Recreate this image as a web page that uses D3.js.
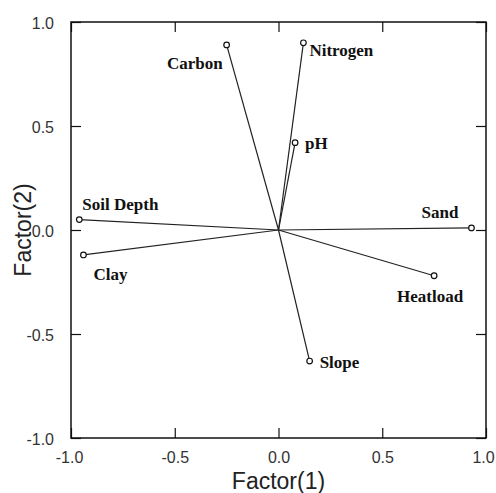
<!DOCTYPE html>
<html>
<head>
<meta charset="utf-8">
<script src="https://cdn.jsdelivr.net/npm/d3@7"></script>
<style>
  html, body { margin: 0; padding: 0; background: #fff; }
  svg { display: block; }
</style>
</head>
<body>
<svg id="chart" width="496" height="493"></svg>
<script>
// Factor loadings of each soil/site variable
const variables = ["Carbon", "Nitrogen", "pH", "Sand", "Soil Depth", "Clay", "Heatload", "Slope"];
const factor1   = [-0.25, 0.12, 0.08, 0.93, -0.96, -0.94, 0.75, 0.15];
const factor2   = [ 0.89, 0.90, 0.42, 0.01,  0.05, -0.12, -0.22, -0.63];

// Axis ticks
const tickValues = [-1.0, -0.5, 0.0, 0.5, 1.0];
const tickLabels = ["-1.0", "-0.5", "0.0", "0.5", "1.0"];

// Label placement relative to each arrow tip: [dx, dy, anchor]
const labelPlacement = [
  [-4, 24, "end"],
  [6, 13, "start"],
  [10, 6, "start"],
  [-13, -10, "end"],
  [3, -10, "start"],
  [10, 25, "start"],
  [-4, 26, "middle"],
  [10, 7, "start"]
];

const svg = d3.select("#chart");
const margin = { top: 22, right: 10, bottom: 55, left: 71 };
const W = 496, H = 493;
const x = d3.scaleLinear().domain([-1, 1]).range([margin.left, W - margin.right]);
const y = d3.scaleLinear().domain([-1, 1]).range([H - margin.bottom, margin.top]);

const tickFmt = v => tickLabels[tickValues.indexOf(v)];
const TL = 10;

// Inner ticks on all four sides
const axisBottom = d3.axisBottom(x).tickValues(tickValues).tickFormat(tickFmt).tickSizeInner(-TL).tickSizeOuter(0).tickPadding(14);
const axisTop    = d3.axisTop(x).tickValues(tickValues).tickFormat("").tickSizeInner(-TL).tickSizeOuter(0);
const axisLeft   = d3.axisLeft(y).tickValues(tickValues).tickFormat(tickFmt).tickSizeInner(-TL).tickSizeOuter(0).tickPadding(17);
const axisRight  = d3.axisRight(y).tickValues(tickValues).tickFormat("").tickSizeInner(-TL).tickSizeOuter(0);

function styleAxis(g) {
  g.select(".domain").remove();
  g.selectAll(".tick line").attr("stroke", "#111").attr("stroke-width", 1.2);
  g.selectAll(".tick text")
    .attr("fill", "#333")
    .style("font-family", "'Liberation Sans', Arial, sans-serif")
    .style("font-size", "16px");
}

const gBottom = svg.append("g").attr("transform", `translate(0,${y(-1)})`).call(axisBottom).call(styleAxis);
// keep the end labels inside the canvas
gBottom.selectAll(".tick text").attr("dx", d => d === 1 ? -3 : (d === -1 ? -2 : 0));
svg.append("g").attr("transform", `translate(0,${y(1)})`).call(axisTop).call(styleAxis);
svg.append("g").attr("transform", `translate(${x(-1)},0)`).call(axisLeft).call(styleAxis)
  .selectAll(".tick text").attr("dy", "0.4em");
svg.append("g").attr("transform", `translate(${x(1)},0)`).call(axisRight).call(styleAxis);

// Plot frame
svg.append("rect")
  .attr("x", x(-1)).attr("y", y(1))
  .attr("width", x(1) - x(-1)).attr("height", y(-1) - y(1))
  .attr("fill", "none").attr("stroke", "#111").attr("stroke-width", 1.5);

// Axis titles
svg.append("text")
  .attr("x", (x(-1) + x(1)) / 2).attr("y", 489)
  .attr("text-anchor", "middle")
  .style("font-family", "'Liberation Sans', Arial, sans-serif")
  .style("font-size", "23px").attr("fill", "#222")
  .text("Factor(1)");

svg.append("text")
  .attr("transform", `translate(31,${(y(-1) + y(1)) / 2}) rotate(-90)`)
  .attr("text-anchor", "middle")
  .style("font-family", "'Liberation Sans', Arial, sans-serif")
  .style("font-size", "23px").attr("fill", "#222")
  .text("Factor(2)");

const data = variables.map((name, i) => ({ name, f1: factor1[i], f2: factor2[i], place: labelPlacement[i] }));

// Loading vectors from the origin
svg.append("g").selectAll("line").data(data).join("line")
  .attr("x1", x(0)).attr("y1", y(0))
  .attr("x2", d => x(d.f1)).attr("y2", d => y(d.f2))
  .attr("stroke", "#222").attr("stroke-width", 1.2);

// Open markers at the vector tips
svg.append("g").selectAll("circle").data(data).join("circle")
  .attr("cx", d => x(d.f1)).attr("cy", d => y(d.f2))
  .attr("r", 2.8)
  .attr("fill", "#fff").attr("stroke", "#111").attr("stroke-width", 1.2);

// Variable names
svg.append("g").selectAll("text").data(data).join("text")
  .attr("x", d => x(d.f1) + d.place[0])
  .attr("y", d => y(d.f2) + d.place[1])
  .attr("text-anchor", d => d.place[2])
  .style("font-family", "'Liberation Serif', 'Times New Roman', serif")
  .style("font-weight", "bold")
  .style("font-size", "17px")
  .attr("fill", "#111")
  .text(d => d.name);
</script>
</body>
</html>
